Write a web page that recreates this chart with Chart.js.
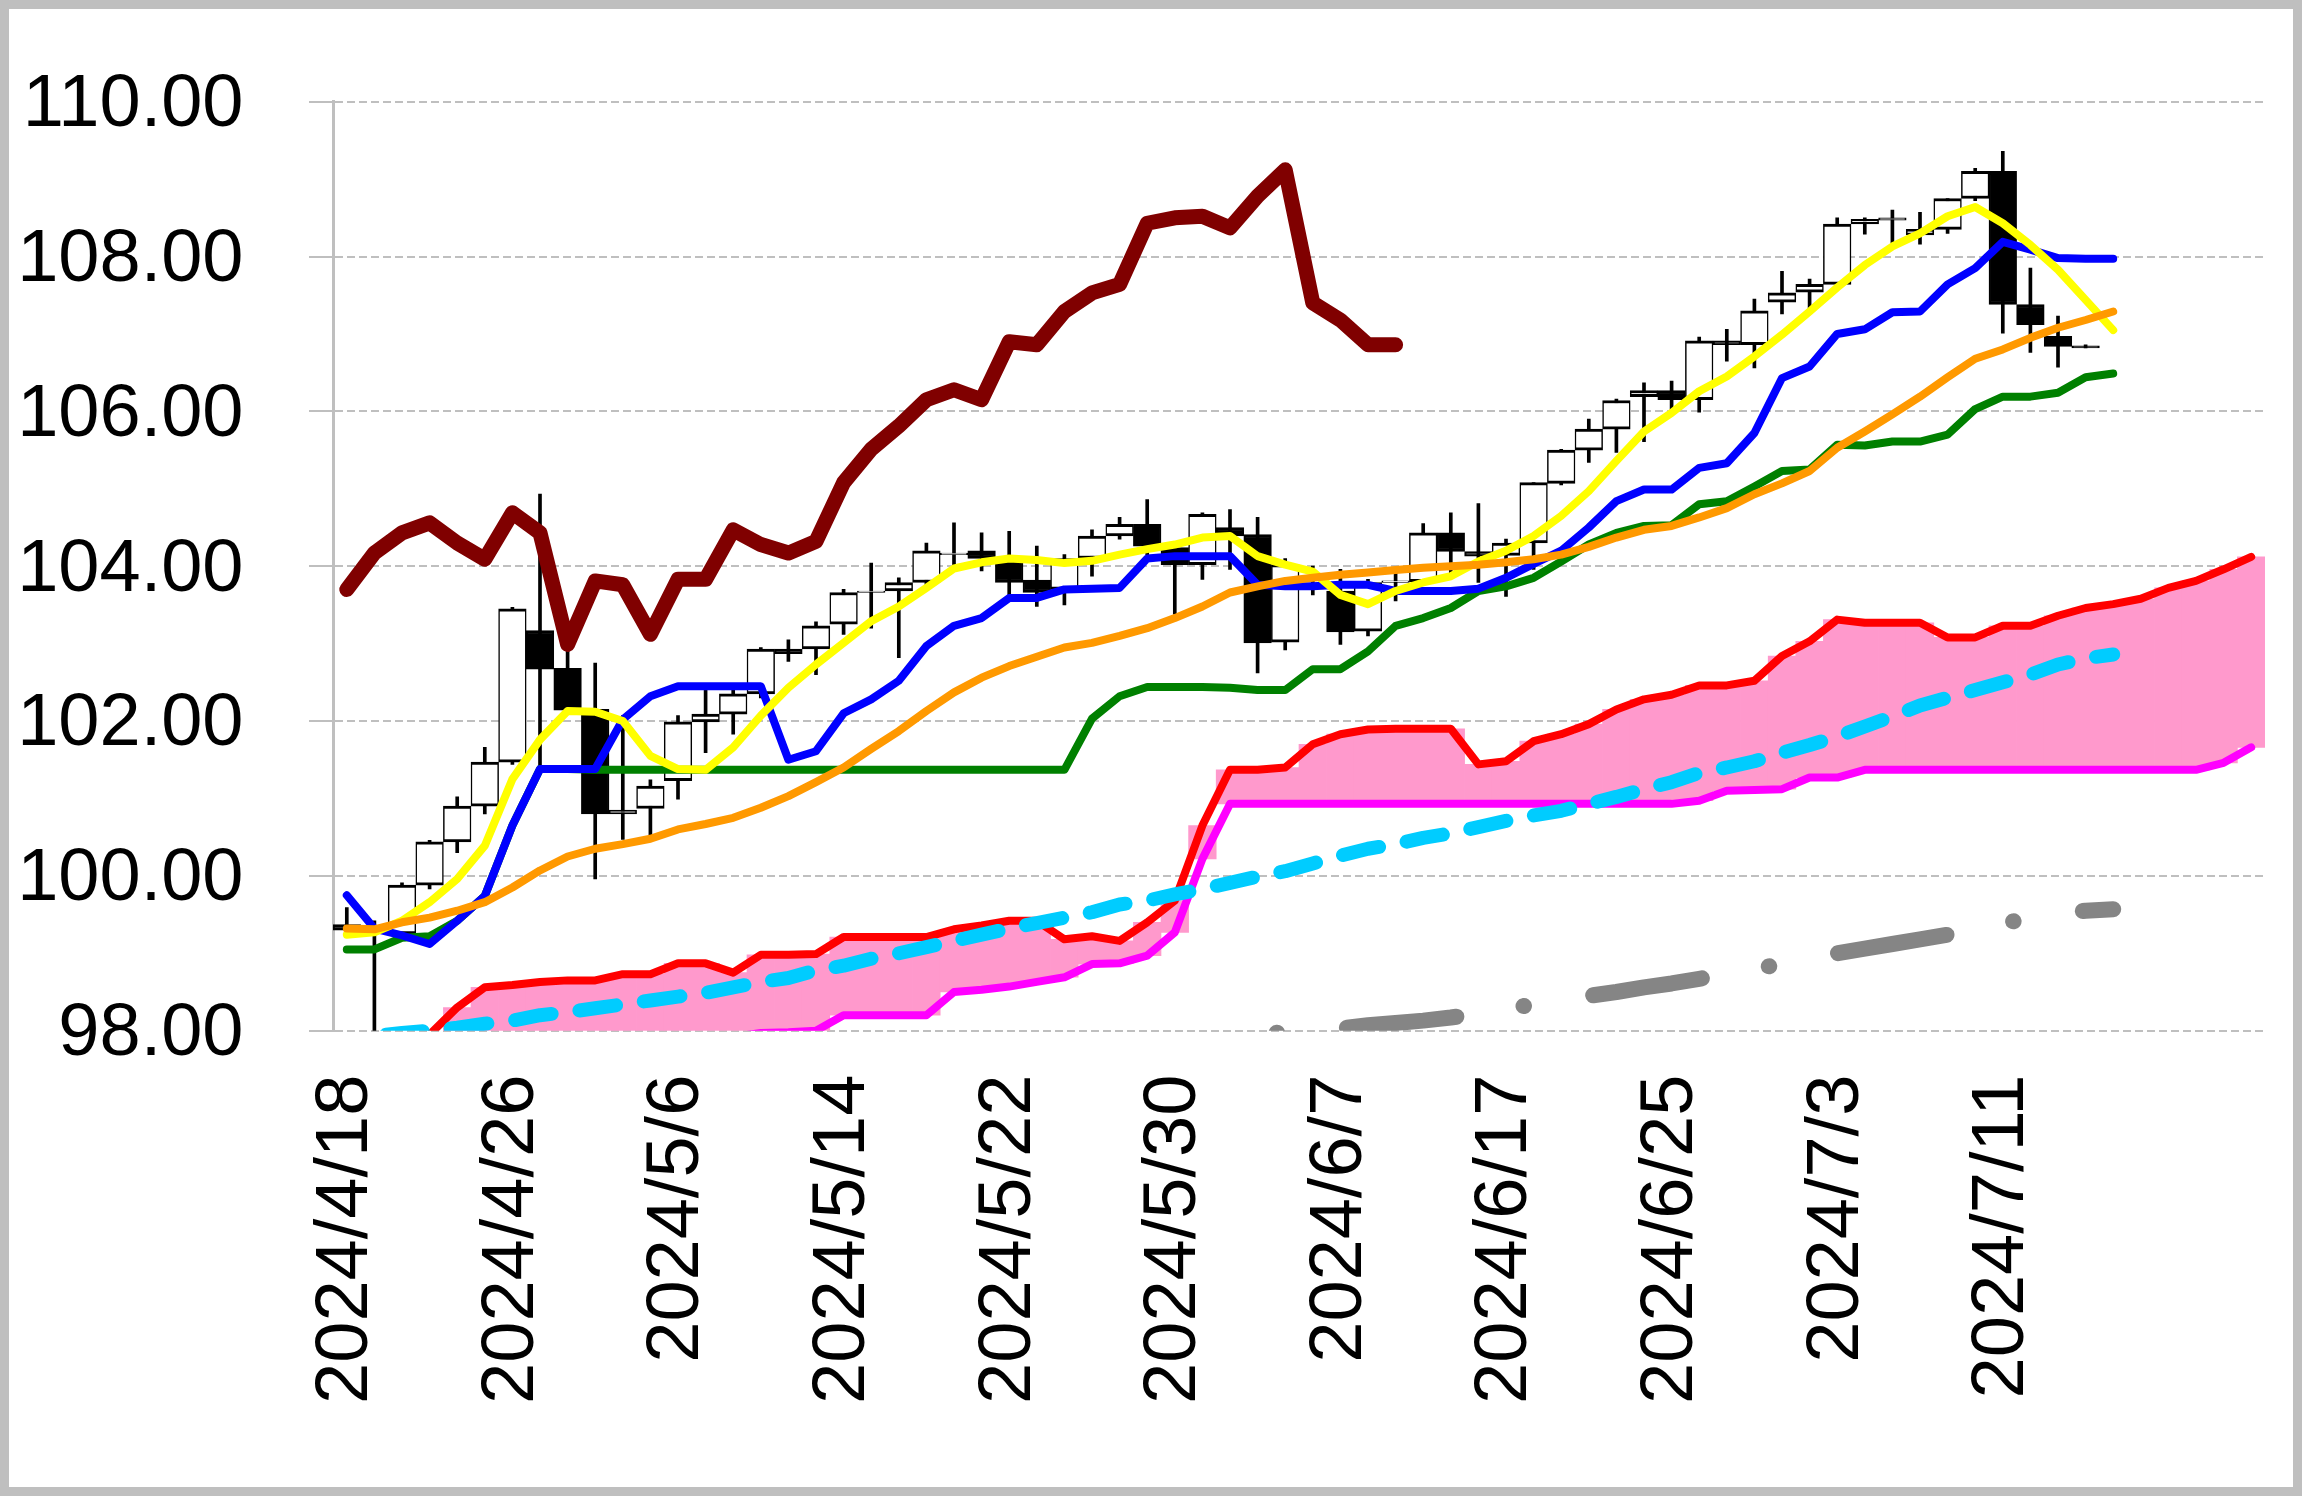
<!DOCTYPE html>
<html>
<head>
<meta charset="utf-8">
<script src="https://cdn.jsdelivr.net/npm/chart.js@4.4.1/dist/chart.umd.min.js"></script>
<style>
html, body { margin: 0; padding: 0; background: #ffffff; }
#wrap { position: absolute; left: 0; top: 0; width: 2302px; height: 1496px; box-sizing: border-box; border: 9px solid #BFBFBF; background: #ffffff; }
#c { display: block; }
</style>
</head>
<body>
<div id="wrap"><canvas id="c" width="2284" height="1478"></canvas></div>
<script>
// ---- categories (trading days; last five are the forward cloud span) ----
const categories = ['2024/4/18','2024/4/19','2024/4/22','2024/4/23','2024/4/24','2024/4/25','2024/4/26','2024/4/29','2024/4/30','2024/5/1',
  '2024/5/2','2024/5/3','2024/5/6','2024/5/7','2024/5/8','2024/5/9','2024/5/10','2024/5/13','2024/5/14','2024/5/15',
  '2024/5/16','2024/5/17','2024/5/20','2024/5/21','2024/5/22','2024/5/23','2024/5/24','2024/5/27','2024/5/28','2024/5/29',
  '2024/5/30','2024/5/31','2024/6/3','2024/6/4','2024/6/5','2024/6/6','2024/6/7','2024/6/10','2024/6/11','2024/6/12',
  '2024/6/13','2024/6/14','2024/6/17','2024/6/18','2024/6/19','2024/6/20','2024/6/21','2024/6/24','2024/6/25','2024/6/26',
  '2024/6/27','2024/6/28','2024/7/1','2024/7/2','2024/7/3','2024/7/4','2024/7/5','2024/7/8','2024/7/9','2024/7/10',
  '2024/7/11','2024/7/12','2024/7/15','2024/7/16','2024/7/17','','','','',''];

// ---- candles ----
const openP = [99.37,99.32,99.25,99.88,100.44,100.90,101.47,103.17,102.68,102.15,
  100.80,100.87,101.23,101.99,102.09,102.35,102.93,102.93,103.25,103.66,
  103.68,103.79,104.15,104.20,104.11,103.82,103.70,104.10,104.39,104.54,
  104.24,104.02,104.50,104.41,103.02,103.78,103.68,103.16,103.79,103.80,
  104.43,104.19,104.14,104.30,105.07,105.50,105.77,106.19,106.27,106.15,
  106.91,106.86,107.41,107.54,107.64,108.42,108.47,108.28,108.35,108.75,
  109.10,107.38,106.97,106.845];
const highP = [99.59,99.42,99.91,100.46,101.02,101.66,103.47,104.93,102.90,102.75,
  102.07,101.24,102.07,102.40,102.40,102.95,103.05,103.28,103.70,104.04,
  103.85,104.30,104.56,104.43,104.45,104.26,104.15,104.47,104.63,104.86,
  104.30,104.69,104.73,104.63,104.10,104.00,103.96,103.83,103.95,104.55,
  104.69,104.81,104.35,105.08,105.51,105.90,106.16,106.37,106.39,106.96,
  107.06,107.45,107.81,107.71,108.50,108.50,108.60,108.57,108.75,109.14,
  109.36,107.85,107.23,106.86];
const lowP = [99.29,97.80,99.20,99.83,100.30,100.80,101.44,101.40,102.10,99.96,
  100.47,100.52,100.99,101.59,101.83,102.30,102.77,102.60,103.12,103.20,
  102.82,103.75,103.97,103.94,103.63,103.48,103.50,103.87,104.35,104.15,
  103.38,103.83,103.96,102.62,102.92,103.63,102.99,103.10,103.55,103.78,
  103.87,103.79,103.61,103.96,105.05,105.34,105.47,105.61,106.02,105.99,
  106.65,106.56,107.26,107.32,107.62,108.29,108.17,108.16,108.30,108.72,
  107.01,106.76,106.57,106.82];
const closeP = [99.30,99.35,99.88,100.44,100.90,101.47,103.45,102.67,102.14,100.80,
  100.85,101.16,101.99,102.09,102.35,102.93,102.87,103.23,103.66,103.68,
  103.79,104.20,104.17,104.10,103.79,103.66,104.10,104.39,104.54,104.26,
  104.02,104.67,104.39,103.01,104.02,103.72,103.15,103.79,103.81,104.43,
  104.19,104.13,104.30,105.08,105.50,105.77,106.14,106.27,106.15,106.91,
  106.86,107.30,107.53,107.64,108.42,108.48,108.50,108.35,108.75,109.10,
  107.38,107.12,106.84,106.82];

// ---- indicator lines ----
const tenkan = [99.75,99.32,99.23,99.12,99.42,99.74,100.65,101.38,101.38,101.38,
  102.02,102.32,102.45,102.45,102.45,102.45,101.50,101.61,102.10,102.28,
  102.52,102.97,103.23,103.33,103.59,103.59,103.70,103.71,103.72,104.10,
  104.13,104.13,104.13,103.76,103.74,103.74,103.76,103.76,103.68,103.68,
  103.68,103.71,103.85,104.03,104.20,104.50,104.84,104.99,104.99,105.27,
  105.33,105.72,106.43,106.58,107.00,107.06,107.28,107.29,107.64,107.85,
  108.19,108.09,107.98,107.97,107.97];
const kijun = [99.05,99.05,99.20,99.22,99.42,99.74,100.65,101.38,101.38,101.37,
  101.37,101.37,101.37,101.37,101.37,101.37,101.37,101.37,101.37,101.37,
  101.37,101.37,101.37,101.37,101.37,101.37,101.37,102.03,102.32,102.44,
  102.44,102.44,102.43,102.40,102.40,102.67,102.67,102.90,103.23,103.33,
  103.46,103.68,103.74,103.85,104.06,104.28,104.43,104.52,104.53,104.80,
  104.84,105.03,105.23,105.25,105.57,105.56,105.61,105.61,105.70,106.03,
  106.19,106.19,106.24,106.44,106.49];
const maShort = [99.24,99.27,99.42,99.66,99.96,100.39,101.25,101.76,102.13,102.12,
  102.00,101.55,101.38,101.37,101.66,102.07,102.43,102.73,103.01,103.29,
  103.48,103.72,103.97,104.05,104.10,104.08,104.04,104.07,104.15,104.22,
  104.28,104.37,104.39,104.13,104.02,103.93,103.63,103.51,103.68,103.79,
  103.87,104.06,104.20,104.39,104.65,104.97,105.36,105.74,105.98,106.26,
  106.45,106.71,106.99,107.29,107.60,107.89,108.13,108.30,108.52,108.64,
  108.43,108.15,107.83,107.44,107.05];
const maMid = [99.32,99.31,99.40,99.46,99.55,99.66,99.85,100.07,100.25,100.35,
  100.41,100.48,100.60,100.67,100.75,100.88,101.03,101.21,101.40,101.64,
  101.87,102.13,102.37,102.56,102.71,102.83,102.95,103.01,103.10,103.20,
  103.33,103.48,103.66,103.74,103.81,103.85,103.89,103.92,103.95,103.98,
  104.00,104.02,104.05,104.09,104.15,104.25,104.37,104.47,104.52,104.63,
  104.75,104.93,105.07,105.23,105.53,105.74,105.96,106.19,106.44,106.68,
  106.80,106.95,107.08,107.18,107.29];
const chikou = [103.70,104.17,104.43,104.56,104.30,104.09,104.69,104.43,102.99,103.81,
  103.76,103.12,103.83,103.83,104.47,104.28,104.17,104.32,105.08,105.51,
  105.81,106.15,106.28,106.15,106.90,106.86,107.29,107.53,107.64,108.43,
  108.50,108.52,108.37,108.78,109.12,107.40,107.18,106.86,106.86];
const spanA = [97.30,97.50,97.70,97.95,98.30,98.56,98.59,98.63,98.65,98.65,
  98.73,98.73,98.87,98.87,98.75,98.98,98.98,98.99,99.21,99.21,
  99.21,99.21,99.31,99.36,99.42,99.42,99.18,99.22,99.16,99.40,
  99.68,100.65,101.37,101.37,101.40,101.70,101.83,101.89,101.90,101.90,
  101.90,101.44,101.48,101.74,101.83,101.96,102.15,102.28,102.34,102.46,
  102.46,102.52,102.84,103.03,103.31,103.27,103.27,103.27,103.08,103.08,
  103.23,103.23,103.36,103.46,103.51,103.58,103.72,103.81,103.96,104.12];
const spanB = [96.80,96.90,97.00,97.10,97.20,97.30,97.40,97.50,97.60,97.70,
  97.75,97.80,97.85,97.88,97.92,97.97,97.98,98.00,98.20,98.20,
  98.20,98.20,98.50,98.53,98.57,98.63,98.69,98.86,98.87,98.97,
  99.27,100.22,100.93,100.93,100.93,100.93,100.93,100.93,100.93,100.93,
  100.93,100.93,100.93,100.93,100.93,100.93,100.93,100.93,100.93,100.97,
  101.10,101.11,101.12,101.27,101.27,101.37,101.37,101.37,101.37,101.37,
  101.37,101.37,101.37,101.37,101.37,101.37,101.37,101.37,101.46,101.66];
const trendCyan = [97.85,97.93,97.97,98.00,98.04,98.09,98.13,98.20,98.24,98.29,
  98.34,98.39,98.44,98.49,98.56,98.63,98.68,98.78,98.84,98.93,
  99.00,99.08,99.16,99.24,99.32,99.39,99.46,99.53,99.63,99.68,
  99.76,99.83,99.91,99.99,100.06,100.16,100.26,100.35,100.41,100.49,
  100.55,100.63,100.71,100.78,100.84,100.93,101.02,101.12,101.21,101.33,
  101.40,101.48,101.59,101.69,101.80,101.93,102.06,102.20,102.30,102.40,
  102.50,102.60,102.73,102.81,102.86];
const trendGray = [null,null,null,null,null,null,null,null,null,null,
  null,null,null,null,null,null,null,null,null,null,
  null,null,null,null,null,null,null,null,97.75,97.80,
  97.84,97.88,97.92,97.96,97.98,98.00,98.03,98.07,98.10,98.13,
  98.17,98.22,98.28,98.34,98.39,98.45,98.50,98.56,98.61,98.67,
  98.73,98.80,98.86,98.93,99.00,99.06,99.12,99.18,99.24,99.32,
  99.39,99.45,99.51,99.55,99.57];

// ---- axis ticks ----
const yMin = 98, yMax = 110, yStep = 2;
const labelEvery = 6;

// ---- derived structures for the library ----
const cloudBars = spanA.map((a, i) => [Math.min(a, spanB[i]), Math.max(a, spanB[i])]);
const bodyBars = openP.map((o, i) => [o, closeP[i]]);
const wickBars = lowP.map((l, i) => [l, highP[i]]);
const bodyFill = openP.map((o, i) => closeP[i] >= o ? '#FFFFFF' : '#000000');

const FONT = "'Liberation Sans', Arial, sans-serif";
const lineBase = { type: 'line', pointRadius: 0, pointHoverRadius: 0, fill: false, tension: 0,
  borderJoinStyle: 'round', borderCapStyle: 'round', spanGaps: false };

new Chart(document.getElementById('c'), {
  type: 'bar',
  data: {
    labels: categories,
    datasets: [
      { type: 'bar', data: cloudBars, backgroundColor: '#FF99CC', borderWidth: 0, grouped: false,
        barPercentage: 1, categoryPercentage: 1, order: 20 },
      Object.assign({}, lineBase, { data: spanB, borderColor: '#FF00FF', borderWidth: 8, order: 19 }),
      Object.assign({}, lineBase, { data: spanA, borderColor: '#FF0000', borderWidth: 8, order: 18 }),
      Object.assign({}, lineBase, { data: trendGray, borderColor: '#858585', borderWidth: 16,
        borderDash: [110, 68, 0.5, 70], borderDashOffset: 20, order: 17 }),
      Object.assign({}, lineBase, { data: trendCyan, borderColor: '#00CCFF', borderWidth: 14,
        borderDash: [37, 28], borderDashOffset: 25, order: 16 }),
      { type: 'bar', data: wickBars, backgroundColor: '#000000', borderWidth: 0, grouped: false,
        barThickness: 3, order: 15 },
      { type: 'bar', data: bodyBars, backgroundColor: bodyFill, borderColor: '#000000',
        borderWidth: { top: 3, bottom: 3, left: 1.5, right: 1.5 }, borderSkipped: false, grouped: false,
        barPercentage: 1, categoryPercentage: 1, order: 14 },
      Object.assign({}, lineBase, { data: chikou, borderColor: '#800000', borderWidth: 15, order: 13 }),
      Object.assign({}, lineBase, { data: kijun, borderColor: '#008000', borderWidth: 8, order: 12 }),
      Object.assign({}, lineBase, { data: tenkan, borderColor: '#0000FF', borderWidth: 8, order: 11 }),
      Object.assign({}, lineBase, { data: maShort, borderColor: '#FFFF00', borderWidth: 8, order: 10 }),
      Object.assign({}, lineBase, { data: maMid, borderColor: '#FF9900', borderWidth: 8, order: 9 })
    ]
  },
  options: {
    responsive: false,
    animation: false,
    events: [],
    devicePixelRatio: 1,
    layout: { padding: { top: 92.7, right: 28, bottom: 0, left: 0 } },
    plugins: { legend: { display: false }, tooltip: { enabled: false } },
    scales: {
      x: {
        type: 'category',
        offset: true,
        grid: { display: false, drawTicks: false },
        border: { display: false },
        ticks: {
          autoSkip: false, minRotation: 90, maxRotation: 90, padding: 44,
          color: '#000000', font: { family: FONT, size: 74 },
          callback: function (v, i) { return i % labelEvery === 0 ? this.getLabelForValue(v) : ''; }
        },
        afterFit: function (s) { s.height = 456.3; s.paddingLeft = 0; s.paddingRight = 0; }
      },
      y: {
        type: 'linear',
        min: yMin, max: yMax,
        grid: { color: '#BFBFBF', lineWidth: 2, drawTicks: true, tickLength: 24, tickColor: '#BFBFBF',
          tickWidth: 2, tickBorderDash: [] },
        border: { display: true, color: '#BFBFBF', width: 3, dash: [8, 4] },
        ticks: {
          stepSize: yStep, padding: 65.5, labelOffset: 4, color: '#000000', font: { family: FONT, size: 74 },
          callback: v => Number(v).toFixed(2)
        },
        afterFit: function (s) { s.width = 324; s.paddingTop = 0; s.paddingBottom = 0; }
      }
    }
  }
});
</script>
</body>
</html>
